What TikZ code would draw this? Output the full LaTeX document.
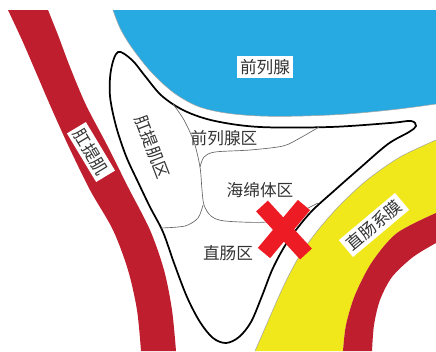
\documentclass[tikz,border=0pt]{standalone}
\usepackage{fontspec}
\setmainfont{Noto Sans CJK SC}
\definecolor{azul}{HTML}{27AAE1}
\definecolor{granate}{HTML}{BE1E2D}
\definecolor{amarillo}{HTML}{F0E81A}
\definecolor{rojox}{HTML}{ED1C24}
\definecolor{texto}{HTML}{333333}

\begin{document}
\begin{tikzpicture}[
  x=0.75pt, y=-0.75pt,
  borde/.style={draw=gray!70, line width=0.4pt},
  zona/.style={draw=black, line width=1.3pt},
  limite/.style={draw=gray!80!black, line width=0.5pt},
  etiq/.style={font=\fontsize{12.5}{14}\selectfont, text=texto, inner sep=1pt},
  caja/.style={etiq, fill=white, inner sep=2.5pt},
]
\useasboundingbox (0,0) rectangle (436,351);
% Glándula (arriba a la derecha)
\fill[azul] plot[smooth, tension=0.6] coordinates {(113,10) (121,30) (135,52) (155,76) (180,97) (210,110) (260,116) (330,115) (390,110) (436,104)} -- (436,10) -- cycle;
\draw[borde] plot[smooth, tension=0.6] coordinates {(113,10) (121,30) (135,52) (155,76) (180,97) (210,110) (260,116) (330,115) (390,110) (436,104)};
% Banda muscular izquierda
\fill[granate] plot[smooth] coordinates {(8,10) (22,40) (35,70) (50,105) (68,145) (90,190) (113,230) (128,270) (137,310) (141,351)}
  -- plot[smooth] coordinates {(176,351) (172,310) (164,270) (150,230) (128,187) (107,145) (86,105) (70,67) (58,35) (48,10)} -- cycle;
% Capa amarilla y banda inferior derecha
\fill[amarillo] plot[smooth] coordinates {(436,140) (400,157) (367,180) (340,205) (318,230) (300,255) (285,283) (272,312) (262,335) (255,351)}
  -- plot[smooth] coordinates {(343,351) (346,325) (355,295) (372,262) (397,233) (436,213)} -- cycle;
\draw[borde] plot[smooth] coordinates {(436,140) (400,157) (367,180) (340,205) (318,230) (300,255) (285,283) (272,312) (262,335) (255,351)};
\fill[granate] plot[smooth] coordinates {(436,213) (397,233) (372,262) (355,295) (346,325) (343,351)}
  -- plot[smooth] coordinates {(372,351) (374,325) (380,300) (392,277) (413,257) (436,243)} -- cycle;
% Contorno de las zonas
\draw[zona] plot[smooth cycle, tension=0.55] coordinates {(118,52) (132,60) (145,76) (162,96) (185,111) (215,121) (260,127) (330,127) (390,123) (411,121) (416,126) (409,132) (388,144) (360,168) (335,190) (310,213) (288,241) (273,268) (262,296) (251,322) (239,337) (226,343) (213,338) (200,322) (187,297) (174,263) (163,232) (150,207) (138,182) (126,156) (116,126) (110,96) (111,70)};
% Límites interiores
\draw[limite] plot[smooth] coordinates {(173,104) (184,120) (194,142) (200,167) (202,190) (204,205) (211,216) (225,221) (267,222) (295,214) (318,203)};
\draw[limite] plot[smooth] coordinates {(161,228) (185,226) (198,218) (203,205)};
\draw[limite] plot[smooth] coordinates {(319,127) (300,138) (283,146) (250,150) (215,152) (204,157) (200,167)};
% Cruz
\draw[rojox, line width=12pt] (262,206) -- (306,254) (304,205) -- (264,253);
% Etiquetas
\node[caja] (prostata) at (265,67) {前列腺};
\node[caja, rotate=-59] (elevador) at (91,152) {肛提肌};
\node[etiq, rotate=-69] (zelevador) at (152,147) {肛提肌区};
\node[etiq] (zprostata) at (224,138) {前列腺区};
\node[etiq] (zesponjoso) at (260,190) {海绵体区};
\node[etiq] (zrecto) at (228,253) {直肠区};
\node[caja, rotate=40] (mesorrecto) at (374,225) {直肠系膜};
\end{tikzpicture}
\end{document}
